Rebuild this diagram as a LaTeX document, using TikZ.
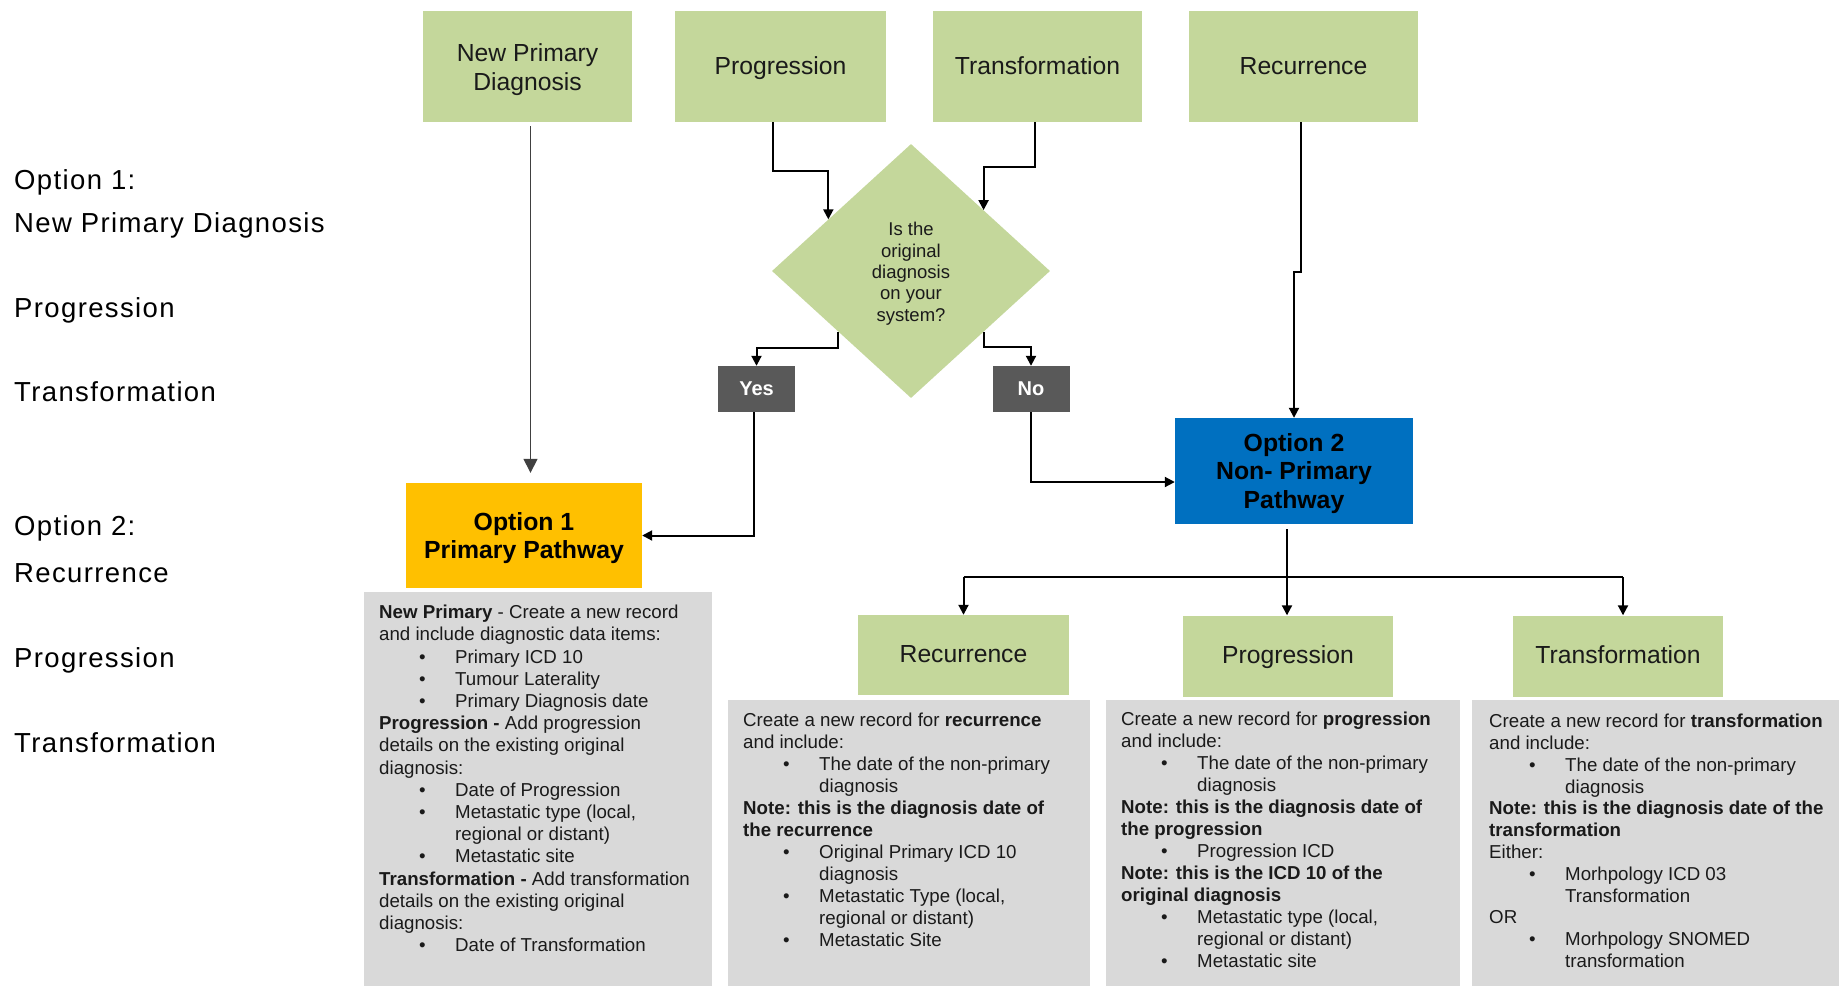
\documentclass[tikz,border=0pt]{standalone}
\usepackage{fontspec}
\setmainfont{Liberation Sans}
\newfontfamily\sidefont[LetterSpace=5]{Liberation Sans}
\usetikzlibrary{shapes.geometric,arrows.meta,calc}
\definecolor{boxgreen}{RGB}{196,215,155}
\definecolor{optyellow}{RGB}{255,192,0}
\definecolor{optblue}{RGB}{0,112,192}
\definecolor{ansgray}{RGB}{89,89,89}
\definecolor{panelgray}{RGB}{217,217,217}
\definecolor{txtdark}{RGB}{26,26,26}
\definecolor{npdline}{RGB}{64,64,64}
\newcommand{\pbul}[1]{\makebox[76pt][l]{\hspace{40pt}\textbullet}#1}
\newcommand{\pcon}[1]{\makebox[76pt]{}#1}
\newcommand{\lift}[1]{\rule{0pt}{#1}}
\begin{document}
\begin{tikzpicture}[x=1pt,y=-1pt,
  conn/.style={line width=2pt,-{Triangle[length=10pt,width=10pt]}},
  gbox/.style={fill=boxgreen,inner sep=0pt,align=center,text=txtdark,
    font=\fontsize{24.7}{29}\selectfont},
  gone/.style={gbox,text height=17.7pt,text depth=2.4pt},
  optbox/.style={inner sep=0pt,align=center,text=black,
    font=\fontsize{24.8}{28.7}\selectfont\bfseries},
  ansbox/.style={fill=ansgray,inner sep=0pt,text=white,minimum width=77pt,minimum height=46pt,
    font=\fontsize{20}{24}\selectfont\bfseries},
  paneltxt/.style={anchor=north west,inner sep=0pt,align=left,text=txtdark},
  sidelbl/.style={anchor=base west,inner sep=0pt,text=black,
    font=\fontsize{27.5}{33}\sidefont}]
\useasboundingbox (0,0) rectangle (1839,986);
\fill[white] (0,0) rectangle (1839,986);

% side labels
\node[sidelbl] (l1) at (14,189) {Option 1:};
\node[sidelbl] (l2) at (14,232) {New Primary Diagnosis};
\node[sidelbl] (l3) at (14,317) {Progression};
\node[sidelbl] (l4) at (14,401) {Transformation};
\node[sidelbl] (l5) at (14,535) {Option 2:};
\node[sidelbl] (l6) at (14,582) {Recurrence};
\node[sidelbl] (l7) at (14,667) {Progression};
\node[sidelbl] (l8) at (14,752) {Transformation};

% top boxes
\node[gbox,minimum width=209pt,minimum height=111pt] (npd) at (527.5,66.5) {\lift{25pt}New Primary\\Diagnosis};
\node[gone,minimum width=211pt,minimum height=111pt] (prog) at (780.5,66.5) {Progression};
\node[gone,minimum width=209pt,minimum height=111pt] (trans) at (1037.5,66.5) {Transformation};
\node[gone,minimum width=229pt,minimum height=111pt] (recur) at (1303.5,66.5) {Recurrence};

% decision
\node[diamond,fill=boxgreen,inner sep=0pt,minimum width=278pt,minimum height=254pt,
  align=center,text=txtdark,font=\fontsize{18.5}{21.4}\selectfont] (dia) at (911,271)
  {\lift{19pt}Is the\\original\\diagnosis\\on your\\system?};

\node[ansbox] (yes) at (756.5,389) {Yes};
\node[ansbox] (no) at (1031,389) {No};

% options
\node[optbox,fill=optyellow,minimum width=236pt,minimum height=105pt] (op1) at (524,535.5) {\lift{23pt}Option 1\\Primary Pathway};
\node[optbox,fill=optblue,minimum width=238pt,minimum height=106pt] (op2) at (1294,471) {\lift{23pt}Option 2\\Non- Primary\\Pathway};

% panels
\fill[panelgray] (364,592) rectangle (712,986);
\fill[panelgray] (728,700) rectangle (1090,986);
\fill[panelgray] (1106,700) rectangle (1460,986);
\fill[panelgray] (1472,700) rectangle (1839,986);

% bottom green boxes
\node[gone,minimum width=211pt,minimum height=80pt] (recB) at (963.5,655) {Recurrence};
\node[gone,minimum width=210pt,minimum height=81pt] (progB) at (1288,656) {Progression};
\node[gone,minimum width=210pt,minimum height=81pt] (transB) at (1618,656) {Transformation};

% panel texts
\node[paneltxt,font=\fontsize{18.7}{22.2}\selectfont] (t1) at (379,605) {%
\textbf{New Primary} - Create a new record\\
and include diagnostic data items:\\
\pbul{Primary ICD 10}\\
\pbul{Tumour Laterality}\\
\pbul{Primary Diagnosis date}\\
\textbf{Progression -} Add progression\\
details on the existing original\\
diagnosis:\\
\pbul{Date of Progression}\\
\pbul{Metastatic type (local,}\\
\pcon{regional or distant)}\\
\pbul{Metastatic site}\\
\textbf{Transformation -} Add transformation\\
details on the existing original\\
diagnosis:\\
\pbul{Date of Transformation}};

\node[paneltxt,font=\fontsize{18.7}{22}\selectfont] (t2) at (743,713) {%
Create a new record for \textbf{recurrence}\\
and include:\\
\pbul{The date of the non-primary}\\
\pcon{diagnosis}\\
\textbf{Note: this is the diagnosis date of}\\
\textbf{the recurrence}\\
\pbul{Original Primary ICD 10}\\
\pcon{diagnosis}\\
\pbul{Metastatic Type (local,}\\
\pcon{regional or distant)}\\
\pbul{Metastatic Site}};

\node[paneltxt,font=\fontsize{18.7}{22}\selectfont] (t3) at (1121,712) {%
Create a new record for \textbf{progression}\\
and include:\\
\pbul{The date of the non-primary}\\
\pcon{diagnosis}\\
\textbf{Note: this is the diagnosis date of}\\
\textbf{the progression}\\
\pbul{Progression ICD}\\
\textbf{Note: this is the ICD 10 of the}\\
\textbf{original diagnosis}\\
\pbul{Metastatic type (local,}\\
\pcon{regional or distant)}\\
\pbul{Metastatic site}};

\node[paneltxt,font=\fontsize{18.7}{21.8}\selectfont] (t4) at (1489,714) {%
Create a new record for \textbf{transformation}\\
and include:\\
\pbul{The date of the non-primary}\\
\pcon{diagnosis}\\
\textbf{Note: this is the diagnosis date of the}\\
\textbf{transformation}\\
Either:\\
\pbul{Morhpology ICD 03}\\
\pcon{Transformation}\\
OR\\
\pbul{Morhpology SNOMED}\\
\pcon{transformation}};

% connectors
\draw[npdline,line width=1.5pt,-{Triangle[length=14pt,width=14pt]},shorten <=4pt,shorten >=10pt]
  ([xshift=3pt]npd.south) -- ([xshift=3pt]npd.south |- op1.north);
\draw[conn] ([xshift=-7.5pt]prog.south) -- ++(0,49) -| (dia.148);
\draw[conn] ([xshift=-2.5pt]trans.south) -- ++(0,45) -| (dia.40);
\draw[conn] (dia.220) -- ++(0,16) -| (yes.north);
\draw[conn] (dia.320) -- ++(0,15) -| (no.north);
\draw[conn] ([xshift=-2.5pt]yes.south) |- (op1.east);
\draw[conn] (no.south) |- ([yshift=-11pt]op2.west);
\draw[conn] ([xshift=-2.5pt]recur.south) -- ++(0,150) -| (op2.north);
\coordinate (hb) at ($(op2.south)+(0,53)$);
\draw[conn,shorten <=5pt] ([xshift=-7pt]op2.south) -- ([xshift=-7pt]op2.south |- progB.north);
\draw[line width=2pt] (recB.north |- hb) -- ([xshift=5pt]transB.north |- hb);
\draw[conn] (recB.north |- hb) -- (recB.north);
\draw[conn] ([xshift=5pt]transB.north |- hb) -- ([xshift=5pt]transB.north);
\end{tikzpicture}
\end{document}
